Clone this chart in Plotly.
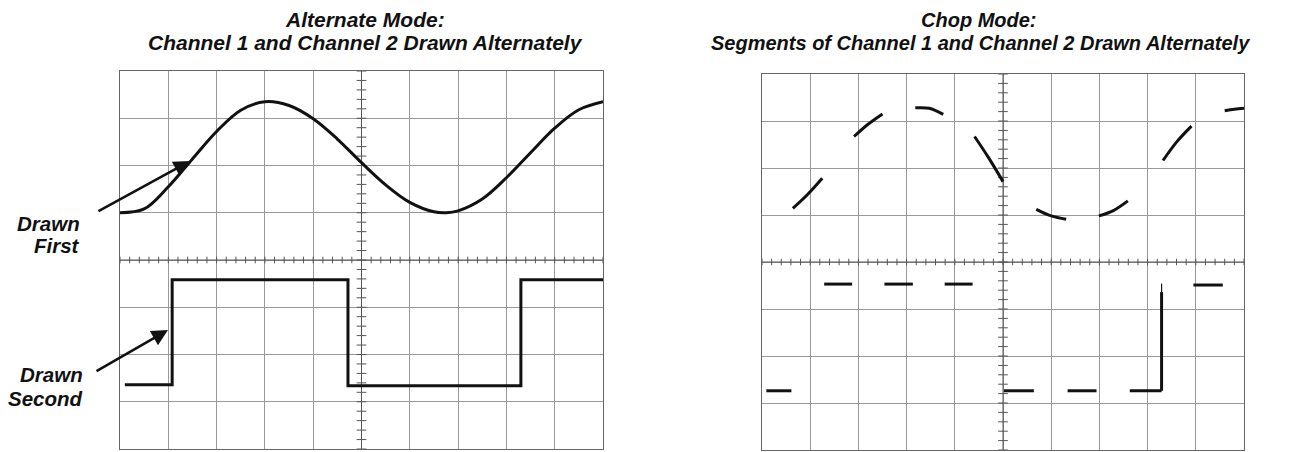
import plotly.graph_objects as go
import numpy as np

W, H = 1292, 452

# ---------------- data (in screen divisions) ----------------
# Alternate mode, channel 1 (sine-like trace)
alt_ch1_x = [0, 0.5, 1, 1.5, 2, 2.5, 3, 3.5, 4, 4.5, 5, 5.5, 6, 6.5, 6.75, 7, 7.5, 8, 8.5, 9, 9.5, 10]
alt_ch1_y = [1.00, 1.08, 1.55, 2.14, 2.72, 3.17, 3.35, 3.27, 2.99, 2.56, 2.06, 1.59, 1.22, 1.02, 1.00,
             1.04, 1.29, 1.74, 2.27, 2.79, 3.18, 3.35]

# Alternate mode, channel 2 (square wave): edges and levels
alt_ch2_edges = [0.1, 1.08, 4.72, 8.3, 10.0]
alt_ch2_levels = [-2.64, -0.42, -2.66, -0.42]

# Chop mode, channel 1 segments
chop_ch1_x = [[0.64, 0.95, 1.25], [1.91, 2.2, 2.5], [3.18, 3.47, 3.76], [4.41, 4.7, 5.0],
              [5.69, 6.0, 6.31], [6.99, 7.3, 7.59], [8.32, 8.6, 8.91], [9.6, 9.8, 10.0]]
chop_ch1_y = [[1.14, 1.44, 1.78], [2.67, 2.93, 3.15], [3.28, 3.27, 3.14], [2.67, 2.22, 1.71],
              [1.12, 0.98, 0.91], [0.98, 1.10, 1.30], [2.16, 2.55, 2.89], [3.22, 3.25, 3.27]]

# Chop mode, channel 2 segments
chop_ch2_x0 = [0.09, 1.29, 2.54, 3.79, 5.02, 6.34, 7.63, 8.95]
chop_ch2_x1 = [0.61, 1.87, 3.13, 4.37, 5.64, 6.94, 8.29, 9.56]
chop_ch2_lvl = [-2.74, -0.47, -0.47, -0.47, -2.74, -2.74, -2.74, -0.49]
chop_edge_x = 8.29
chop_edge_thick = [-2.74, -0.64]
chop_edge_thin = [-0.64, -0.46]

# ---------------- geometry ----------------
L_px = (120, 603, 71, 449)   # x0, x1, ytop, ybottom
R_px = (762, 1244, 74, 450)


def dom(p):
    x0, x1, yt, yb = p
    return [x0 / W, x1 / W], [1 - yb / H, 1 - yt / H]


fig = go.Figure()

INK = "#111111"


def add_grid_ticks(xa, ya):
    xs, ys = [], []
    for t in np.arange(0, 10.001, 0.2):
        xs += [t, t, None]
        ys += [-0.07, 0.07, None]
    for t in np.arange(-4, 4.001, 0.2):
        xs += [4.9, 5.1, None]
        ys += [t, t, None]
    fig.add_trace(go.Scatter(x=xs, y=ys, mode="lines", xaxis=xa, yaxis=ya,
                             line=dict(color="#555555", width=1), hoverinfo="skip", showlegend=False))
    fig.add_trace(go.Scatter(x=[0, 10, None, 5, 5], y=[0, 0, None, -4, 4], mode="lines", xaxis=xa, yaxis=ya,
                             line=dict(color="#555555", width=1), hoverinfo="skip", showlegend=False))


# left panel
add_grid_ticks("x", "y")
fig.add_trace(go.Scatter(x=alt_ch1_x, y=alt_ch1_y, mode="lines", line=dict(color=INK, width=3, shape="spline"),
                         xaxis="x", yaxis="y", showlegend=False, hoverinfo="skip"))
sq_x, sq_y = [], []
for i, lv in enumerate(alt_ch2_levels):
    sq_x += [alt_ch2_edges[i], alt_ch2_edges[i + 1]]
    sq_y += [lv, lv]
fig.add_trace(go.Scatter(x=sq_x, y=sq_y, mode="lines", line=dict(color=INK, width=3),
                         xaxis="x", yaxis="y", showlegend=False, hoverinfo="skip"))

# right panel
add_grid_ticks("x2", "y2")
cx, cy = [], []
for sx, sy in zip(chop_ch1_x, chop_ch1_y):
    cx += sx + [None]
    cy += sy + [None]
fig.add_trace(go.Scatter(x=cx, y=cy, mode="lines", line=dict(color=INK, width=3, shape="spline"),
                         xaxis="x2", yaxis="y2", showlegend=False, hoverinfo="skip", connectgaps=False))
dx, dy = [], []
for a, b, lv in zip(chop_ch2_x0, chop_ch2_x1, chop_ch2_lvl):
    dx += [a, b, None]
    dy += [lv, lv, None]
dx += [chop_edge_x, chop_edge_x, None]
dy += chop_edge_thick + [None]
fig.add_trace(go.Scatter(x=dx, y=dy, mode="lines", line=dict(color=INK, width=3),
                         xaxis="x2", yaxis="y2", showlegend=False, hoverinfo="skip"))
fig.add_trace(go.Scatter(x=[chop_edge_x, chop_edge_x], y=chop_edge_thin, mode="lines",
                         line=dict(color=INK, width=1.2),
                         xaxis="x2", yaxis="y2", showlegend=False, hoverinfo="skip"))

axis_common = dict(range=[0, 10], dtick=1, tick0=0, showgrid=True, gridcolor="#999999", gridwidth=1,
                   zeroline=False, showticklabels=False, ticks="", showline=True, linecolor="#666666",
                   linewidth=1, mirror=True, fixedrange=True)
yaxis_common = dict(axis_common, range=[-4, 4])

lxd, lyd = dom(L_px)
rxd, ryd = dom(R_px)
fig.update_layout(
    width=W, height=H, margin=dict(l=0, r=0, t=0, b=0),
    paper_bgcolor="white", plot_bgcolor="white",
    xaxis=dict(axis_common, domain=lxd, anchor="y"),
    yaxis=dict(yaxis_common, domain=lyd, anchor="x"),
    xaxis2=dict(axis_common, domain=rxd, anchor="y2"),
    yaxis2=dict(yaxis_common, domain=ryd, anchor="x2"),
    font=dict(family="Liberation Sans, Arial, sans-serif", size=21, color=INK),
)

FONT = dict(family="Liberation Sans, Arial, sans-serif", size=21, color=INK)


def px_ann(text, x, y, xanchor="center", yanchor="middle", align="center", size=21):
    fig.add_annotation(text=text, x=x / W, y=1 - y / H, xref="paper", yref="paper", showarrow=False,
                       xanchor=xanchor, yanchor=yanchor, align=align, font=dict(FONT, size=size))


px_ann("<b><i>Alternate Mode:</i></b>", 365, 20)
px_ann("<b><i>Channel 1 and Channel 2 Drawn Alternately</i></b>", 365, 43)
px_ann("<b><i>Chop Mode:</i></b>", 979, 20, size=20)
px_ann("<b><i>Segments of Channel 1 and Channel 2 Drawn Alternately</i></b>", 980, 43, size=20)

px_ann("<b><i>Drawn</i></b>", 82, 223, xanchor="right", size=20.5)
px_ann("<b><i>First</i></b>", 82, 245, xanchor="right", size=20.5)
px_ann("<b><i>Drawn</i></b>", 85, 374, xanchor="right", size=20.5)
px_ann("<b><i>Second</i></b>", 85, 398, xanchor="right", size=20.5)


def arrow(tx, ty, fx, fy):
    fig.add_annotation(x=tx / W, y=1 - ty / H, xref="paper", yref="paper", ax=fx - tx, ay=fy - ty,
                       axref="pixel", ayref="pixel", text="", showarrow=True, arrowhead=2, arrowsize=1.3,
                       arrowwidth=2.5, arrowcolor=INK)


arrow(190, 161, 97, 212)
arrow(168, 330, 95, 372)

fig.write_html("out.html", config={"displayModeBar": False, "staticPlot": True},
               post_script="document.body.style.margin='0';document.body.style.overflow='hidden';")
